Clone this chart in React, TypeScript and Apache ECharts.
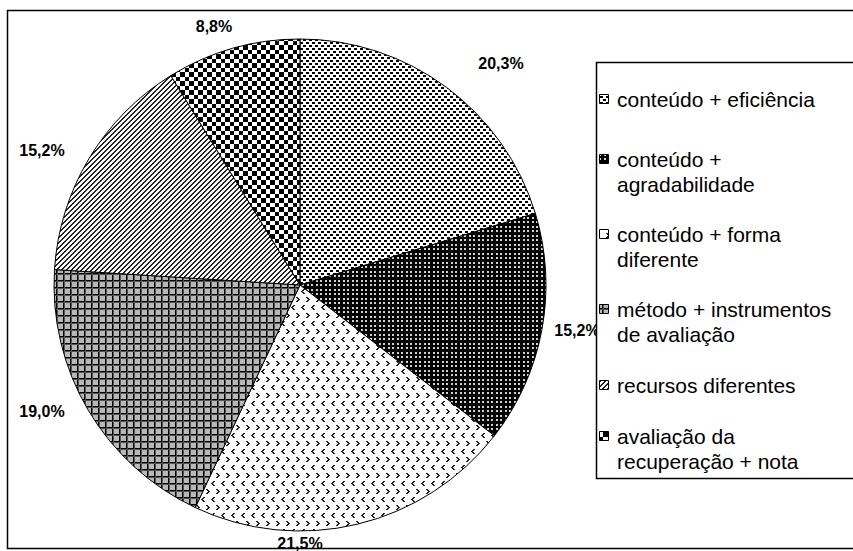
import React, { useEffect, useRef } from "react";
import * as echarts from "echarts";

// Share of each improvement type, in percent
const categories = [
  "conteúdo + eficiência",
  "conteúdo +\nagradabilidade",
  "conteúdo + forma\ndiferente",
  "método + instrumentos\nde avaliação",
  "recursos diferentes",
  "avaliação da\nrecuperação + nota",
];
const values = [20.3, 15.2, 21.5, 19.0, 15.2, 8.8];

// Label anchors (centre of each percentage label) and legend row centres
const LABEL_ANCHORS: [number, number][] = [
  [501, 63],
  [577, 330],
  [300, 543],
  [42, 411],
  [42, 150],
  [214, 26],
];
const LEGEND_ROW_Y = [99, 159, 234, 309, 385, 436];

type Painter = (ctx: CanvasRenderingContext2D) => void;

function tile(w: number, h: number, bg: string, paint: Painter) {
  const c = document.createElement("canvas");
  c.width = w;
  c.height = h;
  const ctx = c.getContext("2d")!;
  ctx.fillStyle = bg;
  ctx.fillRect(0, 0, w, h);
  paint(ctx);
  return { image: c, repeat: "repeat" as const };
}

function px(ctx: CanvasRenderingContext2D, color: string, pts: number[][]) {
  ctx.fillStyle = color;
  pts.forEach(([x, y, w = 1, h = 1]) => ctx.fillRect(x, y, w, h));
}

function makePatterns() {
  // small black dots, staggered
  const dots = tile(6, 6, "#fff", (ctx) => {
    px(ctx, "#000", [[0, 0, 3, 2], [3, 3, 3, 2]]);
  });
  // black with small light dots
  const darkDots = tile(9, 9, "#000", (ctx) => {
    px(ctx, "#d0d0d0", [[1, 1, 2, 2], [5, 1, 2, 2], [1, 5, 2, 2], [5, 5, 2, 2]]);
  });
  // sparse chevrons
  const chevrons = tile(10, 16, "#fff", (ctx) => {
    const lt = [[2, 0], [1, 1], [0, 2], [1, 3], [2, 4], [3, 0], [2, 1], [1, 2], [2, 3], [3, 4]];
    const gt = [[0, 0], [1, 1], [2, 2], [1, 3], [0, 4], [1, 0], [2, 1], [3, 2], [2, 3], [1, 4]];
    px(ctx, "#222", lt.map(([x, y]) => [x + 1, y + 1]));
    px(ctx, "#222", gt.map(([x, y]) => [x + 6, y + 9]));
  });
  // gray grid
  const grid = tile(7, 7, "#b8b8b8", (ctx) => {
    px(ctx, "#000", [[0, 0, 7, 1], [0, 0, 1, 7]]);
    px(ctx, "#555", [[0, 1, 7, 1], [1, 0, 1, 7]]);
  });
  // diagonal hatch
  const hatch = tile(5, 5, "#fff", (ctx) => {
    for (let y = 0; y < 5; y++)
      for (let x = 0; x < 5; x++)
        if ((x + y) % 5 < 2) px(ctx, "#222", [[x, y]]);
  });
  // checkerboard
  const checker = tile(9, 9, "#fff", (ctx) => {
    px(ctx, "#000", [[0, 0, 5, 5], [5, 5, 4, 4]]);
  });
  return [dots, darkDots, chevrons, grid, hatch, checker];
}

const FONT = "'Liberation Sans', Arial, sans-serif";

export default function App() {
  const ref = useRef<HTMLDivElement>(null);

  useEffect(() => {
    document.body.style.margin = "0";
    const chart = echarts.init(ref.current!, null, { renderer: "svg" });
    const patterns = makePatterns();

    const legendItems: any[] = [];
    categories.forEach((name, i) => {
      const y = LEGEND_ROW_Y[i];
      legendItems.push({
        type: "rect",
        shape: { x: 599.5, y: y - 4.5, width: 9, height: 9 },
        style: { fill: patterns[i], stroke: "#000", lineWidth: 1 },
        silent: true,
      });
      legendItems.push({
        type: "text",
        x: 617,
        y: y - 12.5,
        style: {
          text: name,
          font: `21px ${FONT}`,
          fill: "#000",
          lineHeight: 25,
          verticalAlign: "top",
        },
        silent: true,
      });
    });

    chart.setOption({
      animation: false,
      backgroundColor: "#fff",
      graphic: [
        {
          type: "rect",
          shape: { x: 7.5, y: 10.5, width: 860, height: 538 },
          style: { fill: "none", stroke: "#000", lineWidth: 1.5 },
          silent: true,
          z: 10,
        },
        {
          type: "rect",
          shape: { x: 596.5, y: 62.5, width: 270, height: 416 },
          style: { fill: "#fff", stroke: "#000", lineWidth: 1.5 },
          silent: true,
          z: 10,
        },
        ...legendItems.map((g) => ({ ...g, z: 11 })),
      ],
      series: [
        {
          type: "pie",
          center: [300, 285],
          radius: 246,
          startAngle: 90,
          clockwise: true,
          silent: true,
          avoidLabelOverlap: false,
          itemStyle: { borderColor: "#000", borderWidth: 1 },
          label: {
            show: true,
            position: "outside",
            formatter: (p: any) => `${p.value.toFixed(1).replace(".", ",")}%`,
            fontFamily: FONT,
            fontWeight: "bold",
            fontSize: 16,
            color: "#000",
          },
          labelLine: { show: false },
          labelLayout: (p: any) => ({
            x: LABEL_ANCHORS[p.dataIndex][0],
            y: LABEL_ANCHORS[p.dataIndex][1],
            align: "center",
            verticalAlign: "middle",
          }),
          emphasis: { disabled: true },
          data: values.map((v, i) => ({
            name: categories[i],
            value: v,
            itemStyle: { color: patterns[i] },
          })),
        },
      ],
    });
    return () => chart.dispose();
  }, []);

  return <div ref={ref} style={{ width: 853, height: 551 }} />;
}
